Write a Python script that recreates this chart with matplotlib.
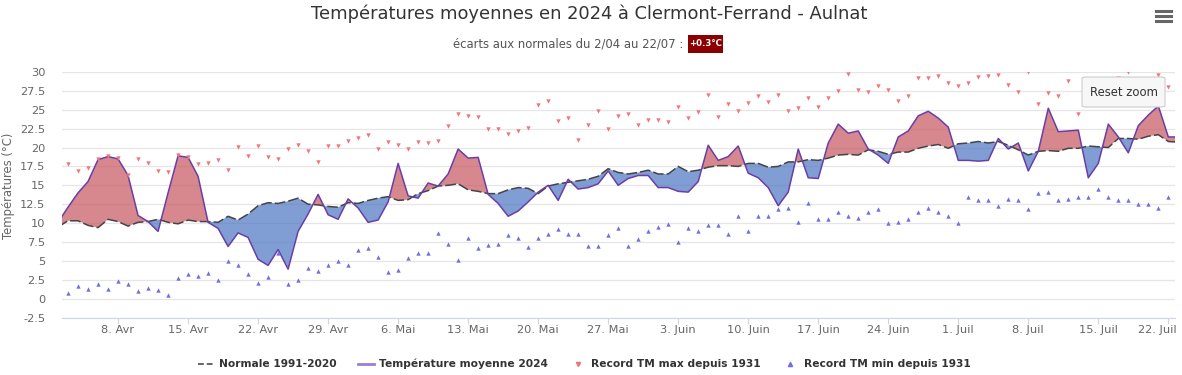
import numpy as np
import pandas as pd
import matplotlib
matplotlib.use("Agg")
import matplotlib.pyplot as plt
from matplotlib.lines import Line2D
from matplotlib.patches import FancyBboxPatch, Rectangle
from matplotlib.transforms import ScaledTranslation

plt.rcParams['font.family'] = ['DejaVu Sans']

# températures moyennes 2024 (2/04 -> 23/07)
moyenne_2024 = [10.1, 12.1, 14.0, 15.5, 18.4, 18.8, 18.5, 16.3, 11.0, 10.2, 8.9, 14.0, 18.9, 18.7, 16.2,
                10.1, 9.3, 6.9, 8.7, 8.1, 5.2, 4.4, 6.5, 3.9, 8.9, 11.2, 13.8, 11.1, 10.5, 13.2,
                12.0, 10.1, 10.4, 12.8, 17.9, 13.6, 13.3, 15.3, 14.9, 16.5, 19.8, 18.6, 18.7, 13.8,
                12.6, 10.9, 11.6, 12.8, 14.1, 15.0, 13.0, 15.8, 14.5, 14.7, 15.2, 16.9, 15.0, 15.9,
                16.3, 16.3, 14.7, 14.7, 14.2, 14.1, 15.5, 20.3, 18.3, 18.8, 20.2, 16.6, 16.0, 14.7,
                12.3, 14.1, 19.8, 16.0, 15.9, 20.6, 23.1, 21.9, 22.2, 19.8, 19.0, 17.9, 21.4, 22.2,
                24.2, 24.8, 23.9, 22.7, 18.3, 18.3, 18.2, 18.3, 21.2, 19.8, 20.6, 16.9, 19.5, 25.2,
                22.1, 22.2, 22.3, 16.0, 17.9, 23.1, 21.4, 19.3, 22.9, 24.3, 25.5, 21.4, 21.4]

# normale 1991-2020
normale = [9.5, 10.3, 10.3, 9.7, 9.4, 10.5, 10.2, 9.6, 10.1, 10.2, 10.5, 10.1, 9.9, 10.4, 10.2,
           10.2, 10.1, 10.9, 10.4, 11.2, 12.3, 12.7, 12.6, 12.9, 13.3, 12.5, 12.4, 12.2, 12.1, 12.7,
           12.6, 13.0, 13.3, 13.5, 13.0, 13.1, 13.9, 14.3, 14.9, 15.0, 15.2, 14.4, 14.2, 13.9,
           13.9, 14.4, 14.7, 14.6, 13.9, 14.9, 15.2, 15.4, 15.6, 15.8, 16.2, 17.2, 16.7, 16.5,
           16.7, 17.0, 16.5, 16.5, 17.5, 16.8, 17.0, 17.4, 17.6, 17.6, 17.5, 17.9, 17.9, 17.4,
           17.5, 18.1, 18.1, 18.4, 18.3, 18.6, 19.0, 19.1, 19.0, 19.7, 19.5, 19.1, 19.4, 19.4,
           19.9, 20.2, 20.4, 19.9, 20.5, 20.6, 20.8, 20.6, 20.8, 20.3, 19.7, 19.0, 19.5, 19.6,
           19.5, 19.9, 19.9, 20.2, 20.1, 20.0, 21.2, 21.2, 21.1, 21.5, 21.7, 20.8, 20.7]

# records depuis 1931 (3/04 -> 22/07)
record_max = [17.8, 16.9, 17.3, 18.5, 18.9, 18.6, 16.3, 18.5, 17.9, 16.9, 16.7, 19.0, 18.8, 17.8,
              18.0, 18.3, 17.0, 20.1, 18.9, 20.2, 18.7, 18.5, 19.8, 20.4, 19.6, 18.1, 20.2, 20.2,
              20.8, 21.2, 21.6, 19.8, 20.7, 20.3, 19.8, 20.7, 20.6, 20.8, 22.8, 24.4, 24.2, 24.0,
              22.4, 22.4, 21.8, 22.2, 22.6, 25.6, 26.1, 23.5, 23.9, 21.0, 23.0, 24.8, 22.4, 24.2,
              24.5, 23.0, 23.7, 23.6, 23.4, 25.4, 23.9, 24.7, 27.0, 24.1, 25.7, 24.8, 25.9, 26.8,
              26.0, 26.9, 24.8, 25.2, 26.5, 25.4, 26.6, 27.5, 29.8, 27.6, 27.3, 28.1, 27.6, 26.1,
              26.8, 29.2, 29.2, 29.5, 28.6, 28.2, 28.6, 29.3, 29.5, 29.6, 28.3, 27.4, 30.0, 25.7,
              27.2, 26.8, 28.8, 24.5, 28.5, 29.0, 28.7, 29.2, 30.0, 28.9, 28.8, 29.6, 28.0]

record_min = [0.8, 1.7, 1.3, 2.0, 1.3, 2.3, 1.9, 1.0, 1.4, 1.2, 0.5, 2.7, 3.2, 3.0, 3.4, 2.5, 5.0,
              4.5, 3.2, 2.1, 2.8, 6.1, 2.0, 2.5, 4.0, 3.6, 4.5, 5.0, 4.5, 6.5, 6.7, 5.5, 3.5, 3.8,
              5.4, 6.0, 6.0, 8.7, 7.2, 5.1, 8.0, 6.7, 7.1, 7.2, 8.4, 8.0, 6.8, 8.0, 8.6, 9.2, 8.6,
              8.6, 7.0, 7.0, 8.4, 9.3, 7.0, 7.9, 9.0, 9.5, 9.9, 7.5, 9.3, 9.0, 9.8, 9.8, 8.6, 11.0,
              9.0, 11.0, 11.0, 11.8, 12.0, 10.2, 12.7, 10.5, 10.5, 11.5, 11.0, 10.7, 11.5, 11.9,
              10.0, 10.1, 10.5, 11.5, 12.0, 11.5, 11.0, 10.0, 13.5, 13.0, 13.0, 12.3, 13.2, 13.0,
              11.9, 14.0, 14.1, 13.0, 13.2, 13.5, 13.5, 14.5, 13.5, 13.0, 13.0, 12.5, 12.5, 12.0, 13.5]

tick_labels = ['8. Avr', '15. Avr', '22. Avr', '29. Avr', '6. Mai', '13. Mai', '20. Mai', '27. Mai',
               '3. Juin', '10. Juin', '17. Juin', '24. Juin', '1. Juil', '8. Juil', '15. Juil', '22. Juil']

jours = pd.date_range('2024-04-02', periods=len(moyenne_2024))
jours_rec = pd.date_range('2024-04-03', periods=len(record_max))
ticks = pd.date_range('2024-04-08', periods=len(tick_labels), freq='7D')

moy = np.array(moyenne_2024)
nor = np.array(normale)

fig = plt.figure(figsize=(11.82, 3.75), dpi=100)
ax = fig.add_axes([62 / 1182, 1 - 317.5 / 375, (1175 - 62) / 1182, (317.5 - 72) / 375])

ax.fill_between(jours, nor, moy, where=moy >= nor, interpolate=True,
                color='#c85a62', alpha=0.72, linewidth=0, zorder=2)
ax.fill_between(jours, nor, moy, where=moy < nor, interpolate=True,
                color='#4f78c4', alpha=0.72, linewidth=0, zorder=2)
ax.plot(jours, nor, color='#444444', lw=1.1, ls=(0, (7, 2)), zorder=3)
ax.plot(jours, moy, color='#6a3ea8', lw=1.1, zorder=4)
ax.scatter(jours_rec, record_max, marker='v', s=10, color='#ee7777', linewidths=0, zorder=5)
ax.scatter(jours_rec, record_min, marker='^', s=10, color='#7070e0', linewidths=0, zorder=5)

ax.set_xlim(pd.Timestamp('2024-04-02 09:30'), pd.Timestamp('2024-07-22 16:00'))
ax.set_ylim(-2.5, 30)
yt = np.arange(-2.5, 30.1, 2.5)
ax.set_yticks(yt)
ax.set_yticklabels([('%g' % v) for v in yt])
ax.set_xticks(ticks)
ax.set_xticklabels(tick_labels)
ax.tick_params(axis='y', length=0, labelsize=8.2, labelcolor='#666666', pad=12)
ax.tick_params(axis='x', length=4, color='#ccd6eb', labelsize=8.2, labelcolor='#666666', pad=1.5)
# le dernier label est décalé vers la gauche pour rester dans le cadre
last = ax.get_xticklabels()[-1]
last.set_transform(last.get_transform() + ScaledTranslation(-11 / 100, 0, fig.dpi_scale_trans))
ax.grid(axis='y', color='#e6e6e6', lw=0.9, zorder=0)
for s in ['top', 'right', 'left']:
    ax.spines[s].set_visible(False)
ax.spines['bottom'].set_color('#ccd6eb')
fig.text(9 / 1182, 1 - 186 / 375, 'Températures (°C)', rotation=90, ha='center', va='center',
         color='#666666', fontsize=8.4)

# titre et sous-titre
fig.text(589 / 1182, 1 - 14 / 375, 'Températures moyennes en 2024 à Clermont-Ferrand - Aulnat',
         ha='center', va='center', fontsize=12.9, color='#333333')
fig.text(683 / 1182, 1 - 44 / 375, 'écarts aux normales du 2/04 au 22/07 :',
         ha='right', va='center', fontsize=8.4, color='#555555')
fig.patches.append(Rectangle((688 / 1182, 1 - 53 / 375), 35 / 1182, 18 / 375,
                             transform=fig.transFigure, facecolor='#8b0000', edgecolor='none'))
fig.text(705.5 / 1182, 1 - 44 / 375, '+0.3°C', ha='center', va='center',
         fontsize=6.2, color='white', fontweight='bold')

# menu
for yy in [11, 16, 21]:
    fig.add_artist(Line2D([1156 / 1182, 1171 / 1182], [1 - yy / 375, 1 - yy / 375],
                          transform=fig.transFigure, color='#666666', lw=2.2))

# bouton reset zoom
fig.patches.append(FancyBboxPatch((1082 / 1182, 1 - 107 / 375), 83 / 1182, 30 / 375,
                                  boxstyle='round,pad=0,rounding_size=0.004',
                                  transform=fig.transFigure, facecolor='#f7f7f7',
                                  edgecolor='#cccccc', lw=0.8, zorder=10))
fig.text(1123.5 / 1182, 1 - 92 / 375, 'Reset zoom', ha='center', va='center',
         fontsize=8.4, color='#333333', zorder=11)

# légende
handles = [
    Line2D([], [], color='#666666', lw=1.4, ls=(0, (3, 1.5))),
    Line2D([], [], color='#9b7fd4', lw=2),
    Line2D([], [], color='#ee7777', marker='v', ls='none', markersize=3),
    Line2D([], [], color='#7070e0', marker='^', ls='none', markersize=3),
]
labels = ['Normale 1991-2020', 'Température moyenne 2024',
          'Record TM max depuis 1931', 'Record TM min depuis 1931']
fig.legend(handles, labels, loc='center', bbox_to_anchor=(584 / 1182, 1 - 364 / 375), ncol=4,
           frameon=False, handlelength=1.5, handletextpad=0.5, columnspacing=2.0,
           prop={'size': 7.7, 'weight': 'bold'}, labelcolor='#333333')

fig.savefig('out.png', dpi=100)
